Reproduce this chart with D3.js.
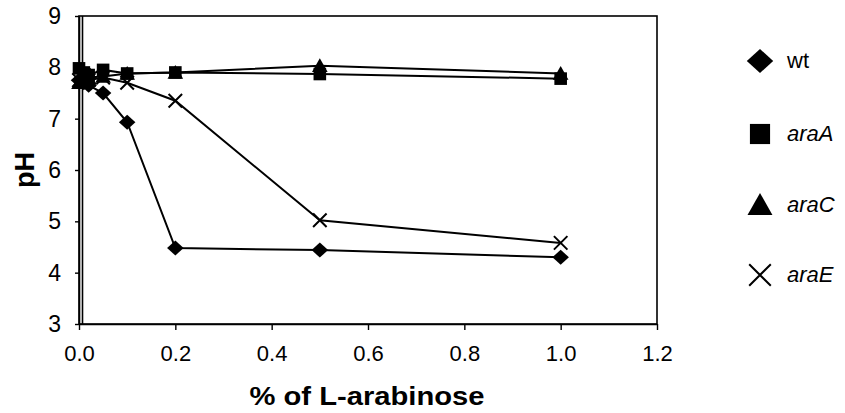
<!DOCTYPE html>
<html>
<head>
<meta charset="utf-8">
<script src="https://cdn.jsdelivr.net/npm/d3@7"></script>
<style>
  html, body { margin: 0; padding: 0; background: #fff; }
  svg { display: block; }
</style>
</head>
<body>
<svg id="chart" width="845" height="413"></svg>
<script>
const xValues = [0, 0.01, 0.02, 0.05, 0.1, 0.2, 0.5, 1.0];
const seriesNames = ["wt", "araA", "araC", "araE"];
const wt   = [7.75, 7.70, 7.65, 7.50, 6.93, 4.48, 4.44, 4.30];
const araA = [7.98, 7.90, 7.85, 7.95, 7.88, 7.90, 7.87, 7.78];
const araC = [7.70, 7.75, 7.80, 7.82, 7.88, 7.90, 8.03, 7.88];
const araE = [7.75, 7.85, 7.75, 7.80, 7.70, 7.35, 5.02, 4.58];
const xTicks = [0, 0.2, 0.4, 0.6, 0.8, 1.0, 1.2];
const yTicks = [3, 4, 5, 6, 7, 8, 9];
const xTitle = "% of L-arabinose";
const yTitle = "pH";

const seriesValues = [wt, araA, araC, araE];
const markerTypes = ["diamond", "square", "triangle", "cross"];

const svg = d3.select("#chart");
const x = d3.scaleLinear().domain([0, 1.2]).range([79, 657]);
const y = d3.scaleLinear().domain([3, 9]).range([324, 16]);

// frame
svg.append("rect").attr("x", x(0)).attr("y", y(9))
  .attr("width", x(1.2) - x(0)).attr("height", y(3) - y(9))
  .attr("fill", "none").attr("stroke", "#000").attr("stroke-width", 1.6);
// second vertical line near left edge
svg.append("line").attr("x1", x(0) + 3.5).attr("x2", x(0) + 3.5)
  .attr("y1", y(9)).attr("y2", y(3))
  .attr("stroke", "#000").attr("stroke-width", 1.6);

// axes
const xAxis = d3.axisBottom(x).tickValues(xTicks).tickFormat(d3.format(".1f"))
  .tickSizeInner(6).tickSizeOuter(0).tickPadding(15);
const gx = svg.append("g").attr("transform", `translate(0,${y(3)})`).call(xAxis);
gx.select(".domain").attr("stroke", "#000").attr("stroke-width", 1.6);
gx.selectAll(".tick line").attr("stroke", "#000").attr("stroke-width", 1.4);
gx.selectAll(".tick text").attr("font-family", "Liberation Sans, Arial, sans-serif")
  .attr("font-size", 22).attr("fill", "#000");

const yAxis = d3.axisLeft(y).tickValues(yTicks).tickFormat(d3.format("d"))
  .tickSizeInner(4).tickSizeOuter(0).tickPadding(14);
const gy = svg.append("g").attr("transform", `translate(${x(0)},0)`).call(yAxis);
gy.select(".domain").attr("stroke", "#000").attr("stroke-width", 1.6);
gy.selectAll(".tick line").attr("stroke", "#000").attr("stroke-width", 1.4);
gy.selectAll(".tick text").attr("font-family", "Liberation Sans, Arial, sans-serif")
  .attr("font-size", 23).attr("fill", "#000");

// titles
svg.append("text").attr("x", 367).attr("y", 405).attr("text-anchor", "middle")
  .attr("font-family", "Liberation Sans, Arial, sans-serif").attr("font-weight", "bold")
  .attr("font-size", 25).attr("textLength", 235).attr("lengthAdjust", "spacingAndGlyphs")
  .text(xTitle);
svg.append("text").attr("transform", "translate(34,170) rotate(-90)").attr("text-anchor", "middle")
  .attr("font-family", "Liberation Sans, Arial, sans-serif").attr("font-weight", "bold")
  .attr("font-size", 27).text(yTitle);

// marker drawing
function drawMarker(g, type, cx, cy, s) {
  if (type === "diamond") {
    g.append("path").attr("d", `M${cx},${cy - s * 0.5}L${cx + s * 0.55},${cy}L${cx},${cy + s * 0.5}L${cx - s * 0.55},${cy}Z`)
      .attr("fill", "#000");
  } else if (type === "square") {
    g.append("rect").attr("x", cx - s * 0.42).attr("y", cy - s * 0.42)
      .attr("width", s * 0.84).attr("height", s * 0.84).attr("fill", "#000");
  } else if (type === "triangle") {
    g.append("path").attr("d", `M${cx},${cy - s * 0.5}L${cx + s * 0.52},${cy + s * 0.42}L${cx - s * 0.52},${cy + s * 0.42}Z`)
      .attr("fill", "#000");
  } else {
    const h = s * 0.45;
    g.append("path").attr("d", `M${cx - h},${cy - h}L${cx + h},${cy + h}M${cx - h},${cy + h}L${cx + h},${cy - h}`)
      .attr("stroke", "#000").attr("stroke-width", 2).attr("fill", "none");
  }
}

const line = d3.line().x(d => x(d[0])).y(d => y(d[1]));
seriesValues.forEach((vals, i) => {
  const pts = xValues.map((xv, j) => [xv, vals[j]]);
  svg.append("path").datum(pts).attr("d", line)
    .attr("fill", "none").attr("stroke", "#000").attr("stroke-width", 2);
});
seriesValues.forEach((vals, i) => {
  const g = svg.append("g");
  xValues.forEach((xv, j) => drawMarker(g, markerTypes[i], x(xv), y(vals[j]), 15));
});

// legend
const legendY = [61, 134, 205, 275];
seriesNames.forEach((name, i) => {
  const g = svg.append("g");
  drawMarker(g, markerTypes[i], 760, legendY[i], 24);
  svg.append("text").attr("x", 787).attr("y", legendY[i] + 7)
    .attr("font-family", "Liberation Sans, Arial, sans-serif").attr("font-size", 22)
    .attr("font-style", i === 0 ? "normal" : "italic").text(name);
});
</script>
</body>
</html>
